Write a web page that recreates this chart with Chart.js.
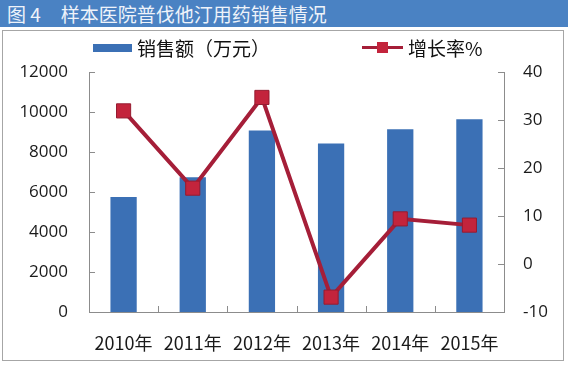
<!DOCTYPE html>
<html>
<head>
<meta charset="utf-8">
<script src="https://cdn.jsdelivr.net/npm/chart.js@4.4.0/dist/chart.umd.min.js"></script>
<style>
  body { margin: 0; background: #fff; width: 568px; height: 377px; overflow: hidden; position: relative; }
  #title { position: absolute; left: 0; top: 0; width: 568px; height: 27px; background: #4a82c3;
           color: #eef3fa; font: 19px "Noto Sans CJK SC"; line-height: 27px; padding-left: 7px;
           box-sizing: border-box; white-space: pre; }
  #title span { margin-left: 20px; }
  #box { position: absolute; left: 2px; top: 30px; width: 562px; height: 331px;
         border: 1px solid #a6a6a6; box-sizing: border-box; }
  #c { position: absolute; left: 0; top: 0; }
  .legtext { position: absolute; top: 36px; font: 19px "Noto Sans CJK SC"; line-height: 24px; color: #111; white-space: pre; }
  .sym { position: absolute; }
</style>
</head>
<body>
<div id="box"></div>
<canvas id="c" width="568" height="377"></canvas>
<div id="title">图 4<span>样本医院普伐他汀用药销售情况</span></div>
<div id="legend"></div>
<script>
  // data
  var years = ['2010年', '2011年', '2012年', '2013年', '2014年', '2015年'];
  var sales = [5750, 6740, 9070, 8430, 9140, 9640];      // 销售额（万元）
  var growth = [31.9, 15.8, 34.7, -6.9, 9.4, 8.1];       // 增长率%
  var salesTicks = [0, 12000, 2000];   // min, max, step
  var growthTicks = [-10, 40, 10];

  var barColor = '#3b70b5';
  var lineColor = '#a51e38';
  var markFill = '#c3243c';
  var axisColor = '#8c8c8c';

  // html legend
  var legend = document.getElementById('legend');
  legend.innerHTML =
    '<div class="sym" style="left:93px;top:44px;width:39px;height:8px;background:' + barColor + '"></div>' +
    '<div class="legtext" style="left:137px">销售额（万元）</div>' +
    '<div class="sym" style="left:362px;top:46px;width:41px;height:3px;background:' + lineColor + '"></div>' +
    '<div class="sym" style="left:377px;top:42px;width:11px;height:11px;background:' + markFill + '"></div>' +
    '<div class="legtext" style="left:408px">增长率%</div>';

  // small tick marks pointing into the plot
  var innerTicks = {
    id: 'innerTicks',
    afterDraw: function(chart) {
      var ctx = chart.ctx, a = chart.chartArea;
      var y = chart.scales.y, y1 = chart.scales.y1, x = chart.scales.x;
      ctx.save();
      ctx.strokeStyle = axisColor;
      ctx.lineWidth = 1;
      ctx.beginPath();
      for (var i = 0; i < y.ticks.length; i++) {
        var p = Math.round(y.getPixelForTick(i)) + 0.5;
        ctx.moveTo(a.left, p); ctx.lineTo(a.left + 6, p);
      }
      for (var j = 0; j < y1.ticks.length; j++) {
        var q = Math.round(y1.getPixelForTick(j)) + 0.5;
        ctx.moveTo(a.right - 6, q); ctx.lineTo(a.right, q);
      }
      for (var k = 1; k < years.length; k++) {
        var r = Math.round(x.getPixelForValue(k - 0.5)) + 0.5;
        ctx.moveTo(r, a.bottom); ctx.lineTo(r, a.bottom - 6);
      }
      ctx.stroke();
      ctx.restore();
    }
  };

  var tickFont = { family: 'Open Sans', size: 17 };

  var ctx = document.getElementById('c').getContext('2d');
  var chart = new Chart(ctx, {
    data: {
      labels: years,
      datasets: [{
        type: 'line',
        label: '增长率%',
        data: growth,
        yAxisID: 'y1',
        borderColor: lineColor,
        borderWidth: 4,
        pointStyle: 'rect',
        pointRadius: 10,
        pointBackgroundColor: markFill,
        pointBorderColor: '#951b30',
        pointBorderWidth: 1,
        order: 0
      }, {
        type: 'bar',
        label: '销售额（万元）',
        data: sales,
        yAxisID: 'y',
        backgroundColor: barColor,
        barPercentage: 0.38,
        categoryPercentage: 1,
        order: 1
      }]
    },
    options: {
      responsive: false,
      animation: false,
      layout: { padding: { top: 72, left: 0, right: 0, bottom: 0 } },
      plugins: {
        legend: { display: false },
        tooltip: { enabled: false }
      },
      scales: {
        x: {
          grid: { display: false, drawTicks: false },
          border: { color: axisColor, width: 1 },
          ticks: { font: { family: 'Noto Sans CJK SC', size: 18 }, color: '#1a1a1a', padding: 20 },
          afterFit: function(s) { s.height = 65; }
        },
        y: {
          position: 'left',
          min: salesTicks[0], max: salesTicks[1],
          ticks: {
            stepSize: salesTicks[2], font: tickFont, color: '#1a1a1a', padding: 21,
            callback: function(v) { return String(v); }
          },
          grid: { display: false, drawTicks: false },
          border: { color: axisColor, width: 1 },
          afterFit: function(s) { s.width = 89; }
        },
        y1: {
          position: 'right',
          min: growthTicks[0], max: growthTicks[1],
          ticks: { stepSize: growthTicks[2], font: tickFont, color: '#1a1a1a', padding: 19 },
          grid: { display: false, drawTicks: false },
          border: { color: axisColor, width: 1 },
          afterFit: function(s) { s.width = 64; }
        }
      }
    },
    plugins: [innerTicks]
  });
</script>
</body>
</html>
